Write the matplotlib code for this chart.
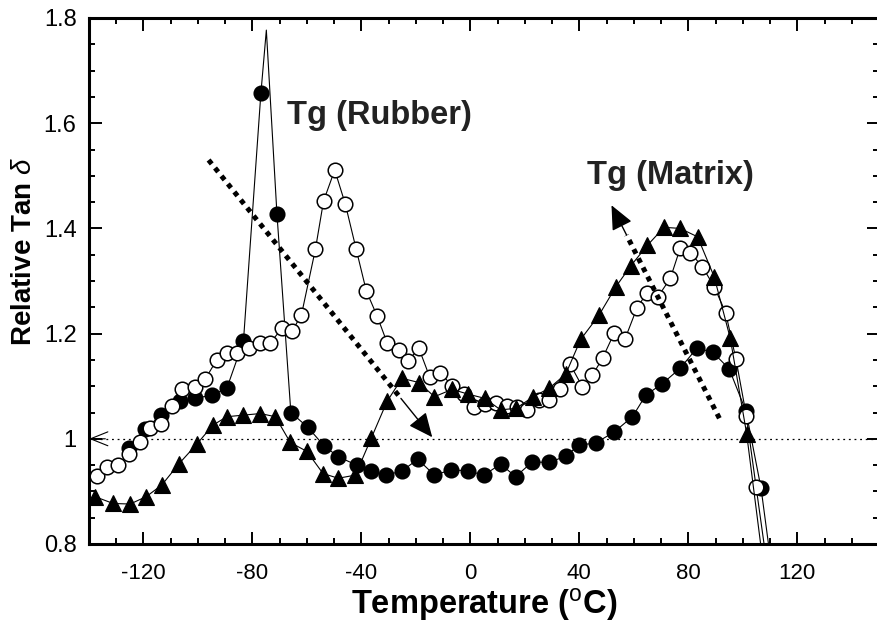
import numpy as np
import matplotlib
matplotlib.use("Agg")
import matplotlib.pyplot as plt
from matplotlib.ticker import MultipleLocator, FuncFormatter

plt.rcParams["font.family"] = ["Liberation Sans", "DejaVu Sans"]
plt.rcParams["axes.unicode_minus"] = False
plt.rcParams["mathtext.fontset"] = "custom"
plt.rcParams["mathtext.rm"] = "Liberation Sans"
plt.rcParams["mathtext.it"] = "Liberation Sans:italic"
plt.rcParams["mathtext.bf"] = "Liberation Sans:bold"

# filled circles
t_fill = [-125.5, -119.5, -113.4, -106.7, -101, -94.9, -89.4, -83.3, -76.9, -74.9,
          -71, -65.9, -59.7, -53.6, -48.5, -41.8, -36.3, -30.8, -25.1, -19.3,
          -13.2, -7.0, -0.9, 5.0, 11.1, 16.6, 22.7, 28.9, 35.0, 39.9,
          46.0, 52.8, 59.5, 64.4, 70.5, 77.0, 83.1, 88.9, 95.0, 101.2,
          106.7, 112]
v_fill = [0.982, 1.018, 1.046, 1.071, 1.077, 1.083, 1.096, 1.186, 1.657, 1.777,
          1.427, 1.050, 1.022, 0.986, 0.966, 0.950, 0.938, 0.931, 0.939, 0.961,
          0.931, 0.941, 0.939, 0.931, 0.952, 0.928, 0.956, 0.955, 0.967, 0.988,
          0.992, 1.013, 1.042, 1.083, 1.105, 1.134, 1.172, 1.165, 1.133, 1.052,
          0.906, 0.7]
fill_marked = [t != -74.9 for t in t_fill]

# open circles
t_open = [-137.2, -133.5, -129.2, -125.2, -121.3, -117.6, -113.5, -109.6, -105.9, -101,
          -97.4, -93.1, -89.4, -85.7, -81.4, -77.1, -73.5, -69.2, -65.5, -62,
          -56.9, -53.9, -49.8, -45.9, -41.9, -38.2, -34.2, -30.6, -26.3, -22.9,
          -18.9, -14.9, -11, -6.7, -2.5, 1.3, 5.2, 9.3, 13.6, 17.2,
          20.9, 25.2, 28.9, 33, 36.6, 41.1, 44.8, 48.5, 52.8, 56.7,
          61.1, 64.8, 68.7, 73.4, 77, 80.7, 85.2, 89.5, 93.7, 97.5,
          101.3, 104.9, 110.5]
v_open = [0.929, 0.947, 0.950, 0.971, 0.993, 1.020, 1.029, 1.062, 1.094, 1.098,
          1.113, 1.150, 1.163, 1.164, 1.172, 1.182, 1.182, 1.210, 1.204, 1.236,
          1.360, 1.452, 1.511, 1.446, 1.360, 1.281, 1.233, 1.183, 1.168, 1.148,
          1.172, 1.117, 1.126, 1.100, 1.085, 1.060, 1.066, 1.069, 1.062, 1.061,
          1.055, 1.074, 1.073, 1.095, 1.142, 1.099, 1.121, 1.153, 1.201, 1.189,
          1.248, 1.278, 1.269, 1.305, 1.362, 1.354, 1.327, 1.289, 1.240, 1.151,
          1.044, 0.908, 0.7]

# filled triangles
t_tri = [-137.8, -131.1, -124.9, -119, -113.3, -106.9, -100.4, -94.5, -89.4, -83.3,
         -77.1, -71.6, -66.1, -60, -54.1, -48.5, -42.2, -36.4, -30.6, -25.1,
         -18.9, -13.2, -6.7, -0.9, 5.2, 11.1, 16.8, 23.1, 28.9, 35,
         40.5, 47.2, 53.4, 58.9, 65, 71.1, 77, 83.4, 89.5, 95.4,
         101.4, 109]
v_tri = [0.890, 0.877, 0.876, 0.890, 0.912, 0.953, 0.990, 1.026, 1.042, 1.045,
         1.048, 1.042, 0.993, 0.976, 0.934, 0.925, 0.931, 1.001, 1.071, 1.115,
         1.107, 1.080, 1.094, 1.085, 1.077, 1.055, 1.058, 1.080, 1.096, 1.123,
         1.189, 1.235, 1.289, 1.329, 1.368, 1.402, 1.400, 1.384, 1.308, 1.191,
         1.010, 0.7]

# guide arrows (start, tip)
rubber_arrow = [(-96.1, 1.530), (-14.0, 1.003)]
matrix_arrow = [(91.4, 1.039), (51.8, 1.444)]

fig = plt.figure(figsize=(8.77, 6.23), dpi=100)
ax = fig.add_axes([89 / 877, 1 - 544 / 623, 790 / 877, 526 / 623])

ax.axhline(1.0, color="k", lw=0.9, ls=(0, (1.5, 3)), zorder=1)
ax.annotate("", xy=(-140, 1.0), xytext=(-134, 1.0),
            arrowprops=dict(arrowstyle="->,head_length=1.0,head_width=0.4",
                            mutation_scale=12.5, lw=0.8, color="k",
                            shrinkA=0, shrinkB=0), zorder=1)

ax.plot(t_fill, v_fill, color="k", lw=0.8, marker="o", ms=10.5, mew=1.1,
        mfc="k", mec="k", markevery=fill_marked, zorder=3)
ax.plot(t_open, v_open, color="k", lw=0.8, marker="o", ms=10.5, mew=1.1,
        mfc="white", mec="k", zorder=4)
ax.plot(t_tri, v_tri, color="k", lw=0.8, marker="^", ms=11.5, mew=0.8,
        mfc="k", mec="k", zorder=5)

for (x0, y0), (x1, y1) in [rubber_arrow, matrix_arrow]:
    xm = x0 + 0.86 * (x1 - x0)
    ym = y0 + 0.86 * (y1 - y0)
    ax.plot([x0, xm], [y0, ym], color="k", lw=3.6, ls=(0, (1, 1.05)),
            solid_capstyle="butt", zorder=6)
    ax.annotate("", xy=(x1, y1), xytext=(xm, ym),
                arrowprops=dict(arrowstyle="-|>,head_length=1.0,head_width=0.45",
                                mutation_scale=15, lw=1, color="k",
                                shrinkA=0, shrinkB=0), zorder=6)

ax.text(-33.4, 1.614, "Tg (Rubber)", fontsize=23.5, fontweight="bold",
        ha="center", va="center", color="#222222")
ax.text(73.6, 1.50, "Tg (Matrix)", fontsize=23.5, fontweight="bold",
        ha="center", va="center", color="#222222")

ax.set_xlim(-140, 150)
ax.set_ylim(0.8, 1.8)
ax.xaxis.set_major_locator(MultipleLocator(40))
ax.xaxis.set_minor_locator(MultipleLocator(10))
ax.yaxis.set_major_locator(MultipleLocator(0.2))
ax.yaxis.set_minor_locator(MultipleLocator(0.05))
ax.yaxis.set_major_formatter(FuncFormatter(lambda v, p: f"{v:g}"))

for s in ax.spines.values():
    s.set_linewidth(2.2)
ax.tick_params(which="both", direction="in", top=True, right=True, width=1.4)
ax.tick_params(which="major", length=9)
ax.tick_params(which="minor", length=4.5)
ax.tick_params(axis="x", pad=14, labelsize=16)
ax.tick_params(axis="y", pad=9, labelsize=17)

ax.set_xlabel(r"Temperature ($^{\rm o}$C)", fontsize=23.5, fontweight="bold",
              labelpad=1)
ax.set_ylabel(r"Relative Tan $\delta$", fontsize=20, fontweight="bold")
ax.yaxis.label.set_va("center")
ax.yaxis.set_label_coords((24 - 89) / 790, 1 - (252 - 18) / 526)

fig.savefig("out.png", dpi=100)
